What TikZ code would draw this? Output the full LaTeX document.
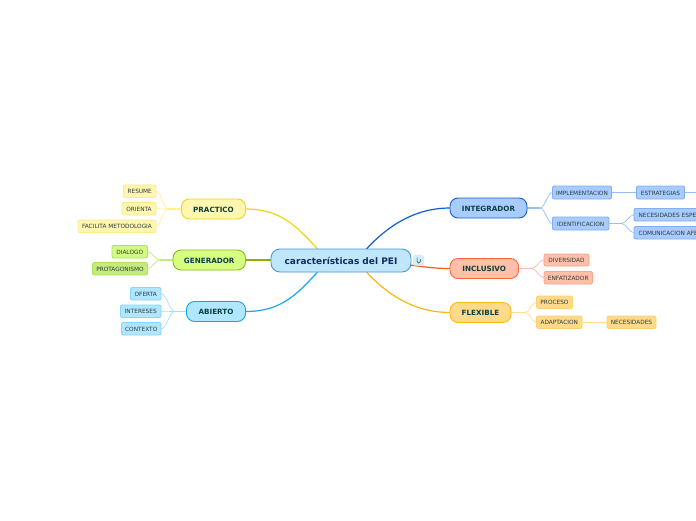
\documentclass[tikz,border=0pt]{standalone}
\usepackage{fontspec}
\usetikzlibrary{backgrounds}
\setmainfont{DejaVu Sans}
\definecolor{ctrF}{HTML}{BFE6FB}\definecolor{ctrD}{HTML}{4A9AD4}\definecolor{ctrT}{HTML}{10305A}
\definecolor{mainT}{HTML}{0C4040}\definecolor{leafT}{HTML}{2A3A3A}
\definecolor{prF}{HTML}{FFF6B0}\definecolor{prD}{HTML}{EFD51E}\definecolor{prL}{HTML}{FFEF9A}\definecolor{prC}{HTML}{F2D50F}\definecolor{prB}{HTML}{FFE98C}
\definecolor{geF}{HTML}{D6FF80}\definecolor{geD}{HTML}{8DB81E}\definecolor{geL}{HTML}{C4EC7C}\definecolor{geC}{HTML}{86B300}\definecolor{geB}{HTML}{B4E060}
\definecolor{abF}{HTML}{B0E6FF}\definecolor{abD}{HTML}{14A5EC}\definecolor{abL}{HTML}{A2E0FF}\definecolor{abC}{HTML}{0FAAF0}\definecolor{abB}{HTML}{84D6FF}
\definecolor{inF}{HTML}{A8CCFF}\definecolor{inD}{HTML}{1260D0}\definecolor{inL}{HTML}{97BFF8}\definecolor{inC}{HTML}{0F5FD0}\definecolor{inB}{HTML}{7FAFF5}
\definecolor{icF}{HTML}{FFBFA8}\definecolor{icD}{HTML}{F56A38}\definecolor{icL}{HTML}{FFB8A0}\definecolor{icC}{HTML}{FF5A1E}\definecolor{icB}{HTML}{FFA488}
\definecolor{flF}{HTML}{FFDA8A}\definecolor{flD}{HTML}{FFB81E}\definecolor{flL}{HTML}{FFDD96}\definecolor{flC}{HTML}{FFB414}\definecolor{flB}{HTML}{FFD070}
\tikzset{
 x=1pt,y=-1pt,
 base/.style={inner sep=0pt,outer sep=0pt,line width=.9pt},
 mainbox/.style={base,rounded corners=8pt,font=\bfseries\fontsize{7.2}{8}\selectfont,text=mainT,fill=#1F,draw=#1D,text height=6.2pt,text depth=0pt},
 leafbox/.style={base,rounded corners=2pt,font=\fontsize{5.8}{6}\selectfont,text=leafT,fill=#1F,draw=#1B,text height=5pt,text depth=0pt},
 trunk/.style={line width=1.2pt},
 stubline/.style={line width=1.4pt},
 twig/.style={line width=.7pt}
}
\newcommand{\bx}[7]{\node[#6,minimum width=#4pt-#2pt,minimum height=#5pt-#3pt,anchor=north west] (#1) at (#2,#3) {#7};}
\begin{document}
\begin{tikzpicture}
\useasboundingbox (0,0) rectangle (696,520);
\clip (0,0) rectangle (696,520);

% central topic
\bx{ce}{271}{249}{411}{272}{mainbox=ctr,rounded corners=9pt,font=\bfseries\fontsize{9}{10}\selectfont,text=ctrT,text height=7pt}{características del PEI}
\bx{ic}{413}{255}{424}{265.5}{base,rounded corners=1.5pt,fill=ctrF!70!white,draw=none}{}
\draw[line width=.5pt,leafT] (417,257.5) -- (417,261.5) .. controls (417,263.6) and (420.3,263.6) .. (420.3,261.5) -- (420.3,259);

% main topics
\bx{pr}{181.5}{199}{245.5}{219}{mainbox=pr}{PRACTICO}
\bx{ge}{173}{250}{245.5}{270}{mainbox=ge}{GENERADOR}
\bx{ab}{186.5}{301.5}{245.5}{321.5}{mainbox=ab}{ABIERTO}
\bx{in}{450}{198}{527}{218}{mainbox=in}{INTEGRADOR}
\bx{ic2}{450}{258.5}{518.5}{278.5}{mainbox=ic}{INCLUSIVO}
\bx{fl}{450}{302.5}{511}{322.5}{mainbox=fl}{FLEXIBLE}

% leaves
\bx{l1}{123.5}{185}{156}{197.5}{leafbox=pr}{RESUME}
\bx{l2}{122}{202.5}{156}{215}{leafbox=pr}{ORIENTA}
\bx{l3}{78}{220}{156}{232.5}{leafbox=pr}{FACILITA METODOLOGIA}
\bx{l4}{112}{245.5}{147.5}{258}{leafbox=ge,fill=geF!80!geL}{DIALOGO}
\bx{l5}{92.5}{262.5}{147.5}{275}{leafbox=ge,fill=geL}{PROTAGONISMO}
\bx{l6}{130.5}{287.5}{161}{300}{leafbox=ab}{OFERTA}
\bx{l7}{120.5}{305}{161}{317.5}{leafbox=ab}{INTERESES}
\bx{l8}{121.5}{322.5}{161}{335}{leafbox=ab}{CONTEXTO}
\bx{r1}{552.5}{186}{611.5}{199}{leafbox=in}{IMPLEMENTACION}
\bx{r2}{636.5}{186}{684.5}{199}{leafbox=in}{ESTRATEGIAS}
\bx{r3}{552.5}{217}{609}{230}{leafbox=in}{IDENTIFICACION}
\node[leafbox=in,anchor=north west,minimum height=12.5pt,text width=92pt,inner xsep=4.5pt,align=left] (r4) at (634,208.5) {NECESIDADES ESPE};
\node[leafbox=in,anchor=north west,minimum height=12.5pt,text width=92pt,inner xsep=4.5pt,align=left] (r5) at (634,226.5) {COMUNICACION AFE};
\bx{r6}{544}{254}{589}{266}{leafbox=ic}{DIVERSIDAD}
\bx{r7}{544}{271.5}{592.5}{284}{leafbox=ic}{ENFATIZADOR}
\bx{r8}{536.5}{296}{572.5}{308.5}{leafbox=fl}{PROCESO}
\bx{r9}{536.5}{316}{582}{328.5}{leafbox=fl}{ADAPTACION}
\bx{r10}{607}{316}{656}{328.5}{leafbox=fl}{NECESIDADES}

% free ends and forks
\coordinate (cNW) at (318,249.5);\coordinate (cNE) at (366,249.5);
\coordinate (cSW) at (318,271.5);\coordinate (cSE) at (366,271.5);
\coordinate (cE) at (410,265);
\coordinate (off) at (704,192.5);
\coordinate (fpr) at (168,209);\coordinate (fge) at (160,260);\coordinate (fab) at (175,311.5);
\coordinate (fin) at (540,208);\coordinate (fid) at (621.5,223.5);
\coordinate (fic) at (531.5,268.5);\coordinate (ffl) at (525,312.5);

\begin{scope}[on background layer]
\fill[white] (0,0) rectangle (696,520);
% trunk connectors
\draw[trunk,prC] (pr.east) .. controls +(35,0) and +(-22,-24) .. (cNW);
\draw[trunk,geC] (ge.east) -- (ge.east -| ce.west);
\draw[trunk,abC] (ab.east) .. controls +(35,0) and +(-22,24) .. (cSW);
\draw[trunk,inC] (in.west) .. controls +(-35,0) and +(22,-24) .. (cNE);
\draw[trunk,icC] (ic2.west) .. controls +(-15,0) and +(15,2) .. (cE);
\draw[trunk,flC] (fl.west) .. controls +(-35,0) and +(22,24) .. (cSE);
% left forks
\draw[stubline,prL] (pr.west) -- (fpr);
\draw[twig,prL] (fpr) .. controls +(-5,0) and +(5,0) .. (l1.east);
\draw[twig,prL] (fpr) -- (l2.east);
\draw[twig,prL] (fpr) .. controls +(-5,0) and +(5,0) .. (l3.east);
\draw[stubline,geL] (ge.west) -- (fge);
\draw[twig,geL] (fge) .. controls +(-5,0) and +(5,0) .. (l4.east);
\draw[twig,geL] (fge) .. controls +(-5,0) and +(5,0) .. (l5.east);
\draw[stubline,abL] (ab.west) -- (fab);
\draw[twig,abL] (fab) .. controls +(-6,0) and +(6,0) .. (l6.east);
\draw[twig,abL] (fab) -- (l7.east);
\draw[twig,abL] (fab) .. controls +(-6,0) and +(6,0) .. (l8.east);
% right forks
\draw[stubline,inL] (in.east) -- (fin);
\draw[twig,inL] (fin) .. controls +(5,0) and +(-5,0) .. (r1.west);
\draw[twig,inL] (fin) .. controls +(5,0) and +(-5,0) .. (r3.west);
\draw[twig,inL] (r1.east) -- (r2.west);
\draw[twig,inL] (r2.east) -- (off);
\draw[stubline,inL] (r3.east) -- (fid);
\draw[twig,inL] (fid) .. controls +(5,0) and +(-5,0) .. (r4.west);
\draw[twig,inL] (fid) .. controls +(5,0) and +(-5,0) .. (r5.west);
\draw[stubline,icL] (ic2.east) -- (fic);
\draw[twig,icL] (fic) .. controls +(5,0) and +(-5,0) .. (r6.west);
\draw[twig,icL] (fic) .. controls +(5,0) and +(-5,0) .. (r7.west);
\draw[stubline,flL] (fl.east) -- (ffl);
\draw[twig,flL] (ffl) .. controls +(5,0) and +(-5,0) .. (r8.west);
\draw[twig,flL] (ffl) .. controls +(5,0) and +(-5,0) .. (r9.west);
\draw[twig,flL] (r9.east) -- (r10.west);
\end{scope}
\end{tikzpicture}
\end{document}
